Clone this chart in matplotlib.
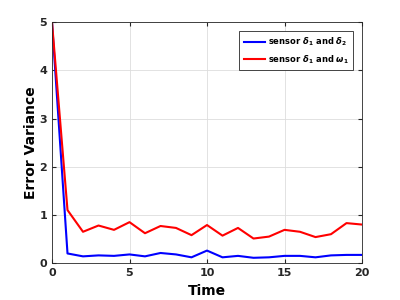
import matplotlib
matplotlib.use("Agg")
import matplotlib.pyplot as plt

t = list(range(21))
blue_vals = [5.0, 0.20, 0.14, 0.16, 0.15, 0.18, 0.14, 0.21, 0.18, 0.12, 0.26,
             0.12, 0.15, 0.11, 0.12, 0.15, 0.15, 0.12, 0.16, 0.17, 0.17]
red_vals = [5.0, 1.10, 0.65, 0.78, 0.69, 0.85, 0.62, 0.77, 0.73, 0.58, 0.79,
            0.57, 0.73, 0.51, 0.55, 0.69, 0.65, 0.54, 0.60, 0.83, 0.80]
labels = [r"sensor $\delta_1$ and $\delta_2$", r"sensor $\delta_1$ and $\omega_1$"]

plt.rcParams['font.family'] = ['DejaVu Sans']
plt.rcParams['font.weight'] = 'bold'

fig = plt.figure(figsize=(4, 3), dpi=100)
ax = fig.add_axes([0.13, 0.123, 0.775, 0.803])
ax.plot(t, blue_vals, color='#0000ff', lw=1.5, label=labels[0])
ax.plot(t, red_vals, color='#ff0000', lw=1.5, label=labels[1])
ax.set_xlim(0, 20)
ax.set_ylim(0, 5)
ax.set_xticks([0, 5, 10, 15, 20])
ax.set_yticks([0, 1, 2, 3, 4, 5])
ax.grid(True, color='#dddddd', lw=0.6)
ax.tick_params(direction='in', top=True, right=True, labelsize=8, length=3, colors='#262626')
for lab in ax.get_xticklabels() + ax.get_yticklabels():
    lab.set_fontweight('bold')
for s in ax.spines.values():
    s.set_color('#262626')
    s.set_linewidth(0.6)
ax.set_xlabel('Time', fontsize=10, fontweight='bold', labelpad=4)
ax.set_ylabel('Error Variance', fontsize=10, fontweight='bold', labelpad=1)
leg = ax.legend(loc='upper right', fontsize=6, fancybox=False, framealpha=1,
                edgecolor='#262626', handlelength=2.6, borderpad=0.5,
                labelspacing=0.6, handletextpad=0.3, borderaxespad=1.1)
leg.get_frame().set_linewidth(0.6)
for tx in leg.get_texts():
    tx.set_fontweight('bold')
fig.savefig('out.png', dpi=100)
